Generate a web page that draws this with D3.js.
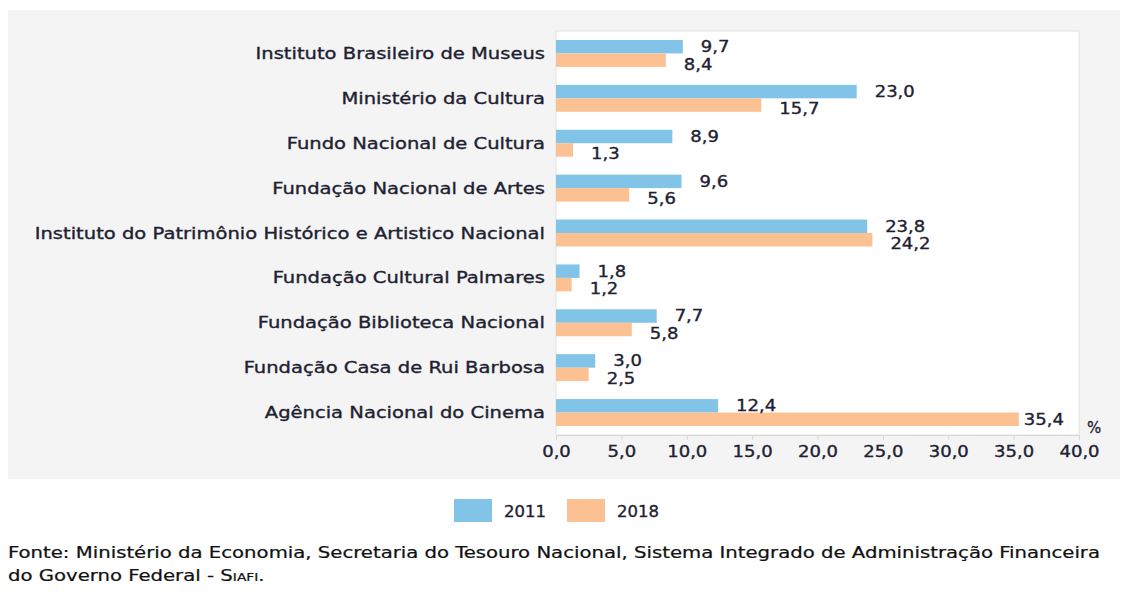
<!DOCTYPE html>
<html>
<head>
<meta charset="utf-8">
<script src="https://cdn.jsdelivr.net/npm/d3@7"></script>
<style>
  html, body { margin: 0; padding: 0; background: #ffffff; }
  svg { display: block; }
</style>
</head>
<body>
<svg id="chart" width="1123" height="592"></svg>
<script>
const categories = [
  "Instituto Brasileiro de Museus",
  "Ministério da Cultura",
  "Fundo Nacional de Cultura",
  "Fundação Nacional de Artes",
  "Instituto do Patrimônio Histórico e Artistico Nacional",
  "Fundação Cultural Palmares",
  "Fundação Biblioteca Nacional",
  "Fundação Casa de Rui Barbosa",
  "Agência Nacional do Cinema"
];
const values2011 = [9.7, 23.0, 8.9, 9.6, 23.8, 1.8, 7.7, 3.0, 12.4];
const values2018 = [8.4, 15.7, 1.3, 5.6, 24.2, 1.2, 5.8, 2.5, 35.4];
const seriesNames = ["2011", "2018"];
const xTicks = [0, 5, 10, 15, 20, 25, 30, 35, 40];
const sourceLine1 = "Fonte: Ministério da Economia, Secretaria do Tesouro Nacional, Sistema Integrado de Administração Financeira";
const sourceLine2 = "do Governo Federal - ";

const colors = { "2011": "#82c4e8", "2018": "#fbc192" };
const textColor = "#1f1f33";
const wideFont = "'DejaVu Sans', Verdana, sans-serif";
const narrowFont = "'Liberation Sans Narrow', 'DejaVu Sans Condensed', 'Roboto Condensed', sans-serif";

const svg = d3.select("#chart");
const fmt = v => d3.format(".1f")(v).replace(".", ",");

// stretch text horizontally (reference font is an extended face)
function stretch(sel, k) {
  sel.each(function () {
    const w = this.getComputedTextLength();
    d3.select(this).attr("textLength", w * k).attr("lengthAdjust", "spacingAndGlyphs");
  });
}

// grey panel
svg.append("rect").attr("x", 8).attr("y", 10).attr("width", 1112).attr("height", 469).attr("fill", "#f4f4f4");

const plot = { left: 556, right: 1079, top: 31, bottom: 435 };

const x = d3.scaleLinear().domain([0, 40]).range([plot.left, plot.right]);
const y = d3.scaleBand().domain(categories).range([plot.top, plot.bottom]).paddingInner(0.4).paddingOuter(0.2);
const ySub = d3.scaleBand().domain(seriesNames).range([0, y.bandwidth()]);

// white plot area
svg.append("rect")
  .attr("x", plot.left).attr("y", plot.top)
  .attr("width", plot.right - plot.left).attr("height", plot.bottom - plot.top)
  .attr("fill", "#ffffff").attr("stroke", "#e2e2e2").attr("stroke-width", 1);

const rows = categories.map((c, i) => ({ cat: c, v: { "2011": values2011[i], "2018": values2018[i] } }));

// bars
const g = svg.append("g");
rows.forEach(r => {
  seriesNames.forEach(s => {
    g.append("rect")
      .attr("x", x(0))
      .attr("y", y(r.cat) + ySub(s))
      .attr("width", x(r.v[s]) - x(0))
      .attr("height", ySub.bandwidth())
      .attr("fill", colors[s]);
  });
});

// value labels
rows.forEach(r => {
  seriesNames.forEach(s => {
    const v = r.v[s];
    const yy = y(r.cat) + ySub(s) + ySub.bandwidth() / 2 + (s === "2018" ? 4 : 0);
    const t = g.append("text")
      .attr("x", x(v) + 18)
      .attr("y", yy)
      .attr("dy", "0.36em")
      .attr("font-family", wideFont)
      .attr("font-size", 15)
      .attr("fill", textColor)
      .attr("stroke", textColor).attr("stroke-width", 0.35)
      .text(fmt(v));
    stretch(t, 1.2);
    // keep label inside plot area: pull it back next to the bar if needed
    const w = +t.attr("textLength");
    if (x(v) + 18 + w > plot.right - 14) {
      t.attr("x", x(v) + 5).attr("y", y(r.cat) + ySub(s) + ySub.bandwidth() / 2);
    }
  });
});

// category labels
const catLabels = svg.append("g").selectAll("text").data(categories).join("text")
  .attr("x", 545)
  .attr("y", d => y(d) + y.bandwidth() / 2)
  .attr("dy", "0.36em")
  .attr("text-anchor", "end")
  .attr("font-family", wideFont)
  .attr("font-size", 15.5)
  .attr("fill", textColor)
  .attr("stroke", textColor).attr("stroke-width", 0.35)
  .text(d => d);
stretch(catLabels, 1.26);

// x axis
const axis = d3.axisBottom(x).tickValues(xTicks).tickFormat(fmt).tickSize(5).tickPadding(6);
const ax = svg.append("g").attr("transform", `translate(0,${plot.bottom})`).call(axis);
ax.select(".domain").attr("stroke", "#d8d8d8");
ax.selectAll(".tick line").attr("stroke", "#d8d8d8");
ax.selectAll(".tick text")
  .attr("font-family", wideFont).attr("font-size", 15)
  .attr("fill", textColor)
  .attr("stroke", textColor).attr("stroke-width", 0.35);
stretch(ax.selectAll(".tick text"), 1.2);

// % unit
svg.append("text").attr("x", 1087).attr("y", 428).attr("dy", "0.36em")
  .attr("font-family", wideFont).attr("font-size", 15).attr("fill", textColor)
  .attr("stroke", textColor).attr("stroke-width", 0.3)
  .text("%");

// legend
const legend = svg.append("g");
const legX = [454, 567];
seriesNames.forEach((s, i) => {
  legend.append("rect").attr("x", legX[i]).attr("y", 499).attr("width", 38).attr("height", 23).attr("fill", colors[s]);
  const t = legend.append("text").attr("x", legX[i] + 50).attr("y", 512).attr("dy", "0.36em")
    .attr("font-family", wideFont).attr("font-size", 15).attr("fill", textColor)
    .attr("stroke", textColor).attr("stroke-width", 0.35)
    .text(s);
  stretch(t, 1.1);
});

// source note
const src1 = svg.append("text").attr("x", 8).attr("y", 558)
  .attr("font-family", narrowFont).attr("font-size", 15).attr("fill", "#111")
  .attr("stroke", "#111").attr("stroke-width", 0.2)
  .text(sourceLine1);
const w1 = src1.node().getComputedTextLength();
const k = 1092 / w1;
src1.attr("textLength", 1092).attr("lengthAdjust", "spacingAndGlyphs");

const src2 = svg.append("text").attr("x", 8).attr("y", 581)
  .attr("font-family", narrowFont).attr("font-size", 15).attr("fill", "#111")
  .attr("stroke", "#111").attr("stroke-width", 0.2);
src2.append("tspan").text(sourceLine2);
src2.append("tspan").text("S");
src2.append("tspan").attr("font-size", 10.5).text("IAFI");
src2.append("tspan").text(".");
stretch(src2, k);
</script>
</body>
</html>
